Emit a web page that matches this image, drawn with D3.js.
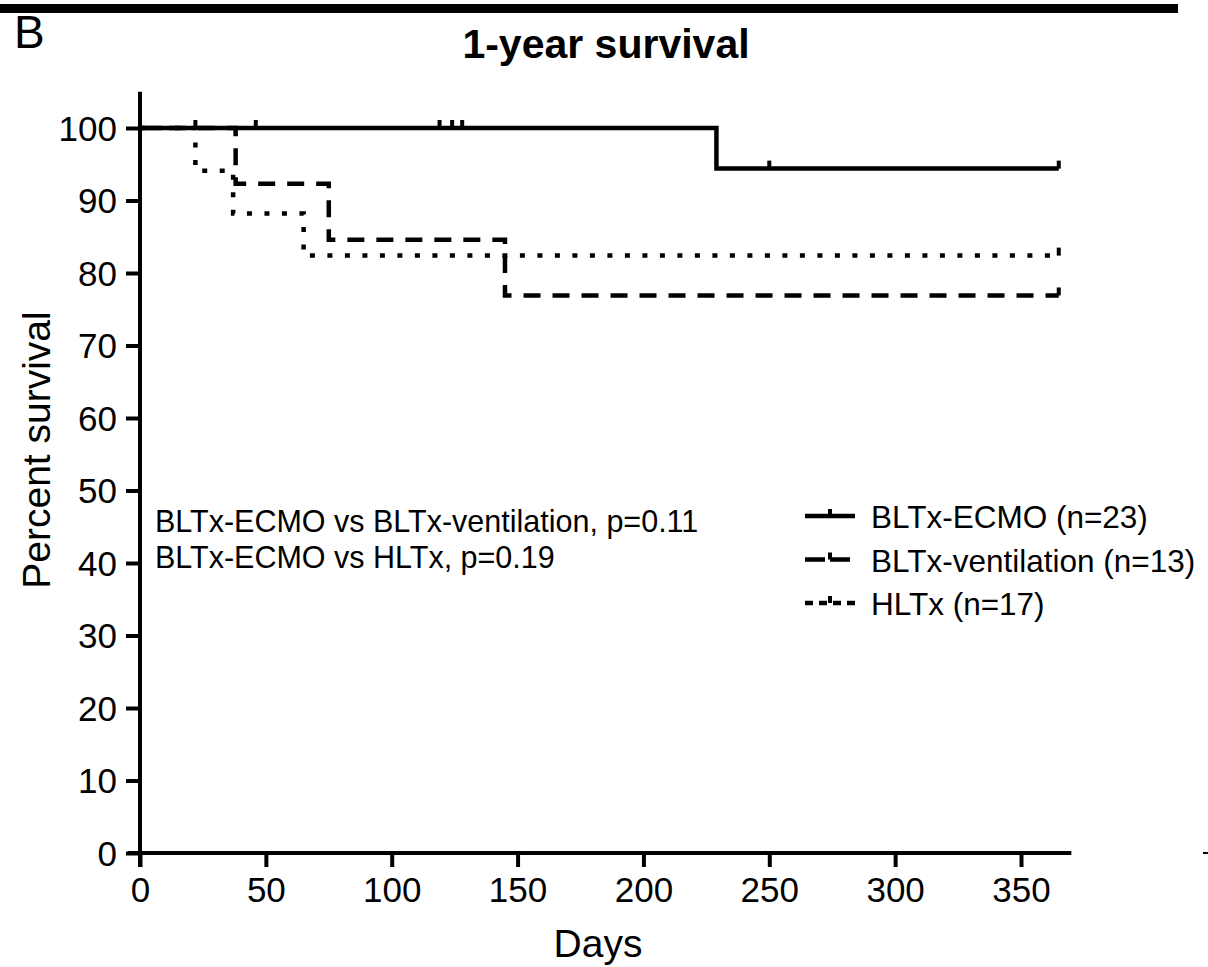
<!DOCTYPE html>
<html>
<head>
<meta charset="utf-8">
<script src="https://cdn.jsdelivr.net/npm/d3@7"></script>
<style>
  body { margin: 0; background: #fff; }
  text { font-family: "Liberation Sans", Arial, Helvetica, sans-serif; fill: #000; }
</style>
</head>
<body>
<div id="chart"></div>
<script>
// Kaplan-Meier steps
const ecmoDays = [0, 229, 365];
const ecmoSurv = [100, 94.4, 94.4];
const ecmoCensor = [22, 46, 119, 124, 128, 250, 365];

const ventDays = [0, 38, 75, 145, 365];
const ventSurv = [100, 92.3, 84.6, 76.9, 76.9];
const ventCensor = [365];

const hltxDays = [0, 22, 37, 65, 365];
const hltxSurv = [100, 94.1, 88.2, 82.4, 82.4];
const hltxCensor = [365];

const xTicks = [0, 50, 100, 150, 200, 250, 300, 350];
const yTicks = [0, 10, 20, 30, 40, 50, 60, 70, 80, 90, 100];

const legendLabels = ["BLTx-ECMO (n=23)", "BLTx-ventilation (n=13)", "HLTx (n=17)"];
const pValueLines = ["BLTx-ECMO vs BLTx-ventilation, p=0.11", "BLTx-ECMO vs HLTx, p=0.19"];

const width = 1208, height = 967;

const svg = d3.select("#chart").append("svg")
  .attr("width", width)
  .attr("height", height);

const x = d3.scaleLinear().domain([0, 350]).range([140, 1021]);
const y = d3.scaleLinear().domain([0, 100]).range([853, 128]);

// top rule and panel letter
svg.append("rect").attr("x", 0).attr("y", 4).attr("width", 1178).attr("height", 9).attr("fill", "#000");
svg.append("text").attr("x", 14).attr("y", 48).style("font-size", "46px").text("B");

svg.append("text")
  .attr("x", 606).attr("y", 58)
  .attr("text-anchor", "middle")
  .style("font-size", "41px").style("font-weight", "bold")
  .text("1-year survival");

// axes
const xAxis = d3.axisBottom(x).tickValues(xTicks).tickSize(14).tickPadding(7);
const yAxis = d3.axisLeft(y).tickValues(yTicks).tickSize(14).tickPadding(9);

const xAxisG = svg.append("g").attr("transform", `translate(0,${y(0)})`).call(xAxis);
xAxisG.select(".domain").attr("d", `M${x(0) - 12},0H${x(370)}`);

const yAxisG = svg.append("g").attr("transform", `translate(${x(0)},0)`).call(yAxis);
yAxisG.select(".domain").attr("d", `M0,${y(105)}V${y(0) + 14}`);

[xAxisG, yAxisG].forEach(g => {
  g.select(".domain").attr("stroke", "#000").attr("stroke-width", 4).attr("fill", "none");
  g.selectAll(".tick line").attr("stroke", "#000").attr("stroke-width", 4);
  g.selectAll(".tick text").style("font-size", "35px").attr("fill", "#000");
});
xAxisG.selectAll(".tick text").attr("dy", "0.8em");
yAxisG.selectAll(".tick text").attr("dy", "0.35em");

// axis titles
svg.append("text")
  .attr("x", 598).attr("y", 957)
  .attr("text-anchor", "middle")
  .style("font-size", "39px")
  .text("Days");

svg.append("text")
  .attr("transform", "translate(50,450) rotate(-90)")
  .attr("text-anchor", "middle")
  .style("font-size", "39px")
  .text("Percent survival");

// survival curves
const series = [
  { days: ecmoDays, surv: ecmoSurv, censor: ecmoCensor, dash: null },
  { days: ventDays, surv: ventSurv, censor: ventCensor, dash: "17,12" },
  { days: hltxDays, surv: hltxSurv, censor: hltxCensor, dash: "5,12.5" }
];

const line = d3.line()
  .x(d => x(d[0]))
  .y(d => y(d[1]))
  .curve(d3.curveStepAfter);

function survAt(s, day) {
  let v = s.surv[0];
  s.days.forEach((d, i) => { if (d <= day) v = s.surv[i]; });
  return v;
}

series.forEach(s => {
  svg.append("path")
    .datum(s.days.map((d, i) => [d, s.surv[i]]))
    .attr("d", line)
    .attr("fill", "none")
    .attr("stroke", "#000")
    .attr("stroke-width", 4.5)
    .attr("stroke-dasharray", s.dash);

  svg.selectAll(null)
    .data(s.censor)
    .enter().append("line")
    .attr("x1", d => x(d)).attr("x2", d => x(d))
    .attr("y1", d => y(survAt(s, d)))
    .attr("y2", d => y(survAt(s, d)) - 8)
    .attr("stroke", "#000")
    .attr("stroke-width", 4);
});

// p-value annotation
svg.selectAll(".pval")
  .data(pValueLines)
  .enter().append("text")
  .attr("class", "pval")
  .attr("x", 155)
  .attr("y", (d, i) => 532 + i * 36)
  .style("font-size", "30.5px")
  .text(d => d);

// legend
const legend = svg.append("g").attr("transform", "translate(805,516)");
legendLabels.forEach((lab, i) => {
  const gy = i * 43.5;
  legend.append("line")
    .attr("x1", 0).attr("x2", 50).attr("y1", gy).attr("y2", gy)
    .attr("stroke", "#000").attr("stroke-width", 4.5)
    .attr("stroke-dasharray", series[i].dash ? (i === 1 ? "20,5" : "8,6") : null);
  legend.append("line")
    .attr("x1", 25).attr("x2", 25).attr("y1", gy).attr("y2", gy - 7)
    .attr("stroke", "#000").attr("stroke-width", 4);
  legend.append("text")
    .attr("x", 66).attr("y", gy + 12)
    .style("font-size", "31.5px")
    .text(lab);
});

// stray mark at the right edge
svg.append("line").attr("x1", 1203).attr("x2", 1208).attr("y1", 853).attr("y2", 853)
  .attr("stroke", "#000").attr("stroke-width", 2);
</script>
</body>
</html>
